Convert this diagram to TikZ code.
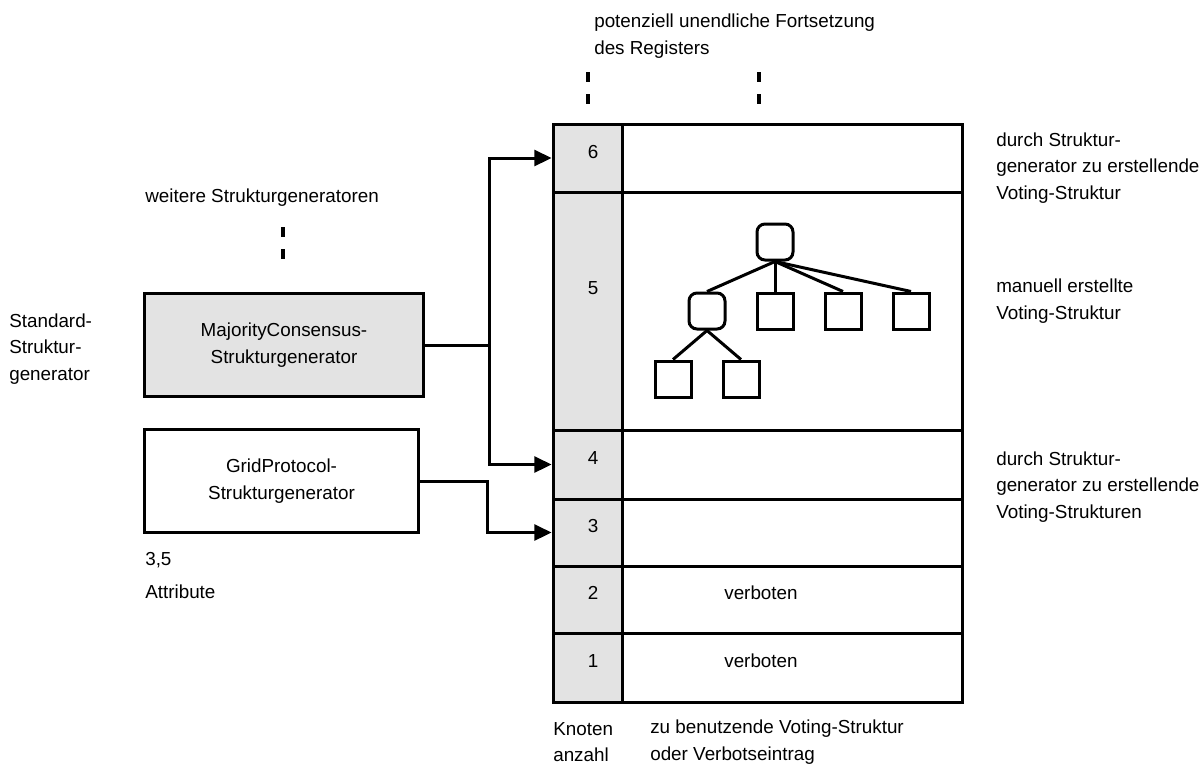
\documentclass[tikz,border=0pt]{standalone}
\usepackage{fontspec}
\setmainfont{Liberation Sans}
\usepackage{tikz}
\usetikzlibrary{arrows.meta, fit}

\definecolor{cellgray}{gray}{0.89}
\tikzset{
  cell/.style={draw, line width=0.075cm, inner sep=0pt},
  genbox/.style={draw, line width=0.075cm, minimum height=2.55cm, align=center},
  conn/.style={line width=0.075cm, -{Triangle[length=0.43cm, width=0.4cm]}},
  innernode/.style={draw, line width=0.075cm, rounded corners=0.2cm, minimum size=0.9cm, inner sep=0pt},
  leafnode/.style={draw, line width=0.075cm, minimum size=0.9cm, inner sep=0pt},
  contdash/.style={line width=0.1cm, dash pattern=on 0.25cm off 0.3cm},
  lbl/.style={anchor=west, align=left, inner sep=0pt}
}

\begin{document}
\begin{tikzpicture}[x=0.025cm, y=-0.025cm, font=\fontsize{13.4}{19}\selectfont]
			\useasboundingbox (0,0) rectangle (1203,764);
			% register rows
			\foreach \n/\t/\b/\ny in {6/124/192/152, 5/192/430/288, 4/430/499/458, 3/499/566/526, 2/566/633/593, 1/633/702/661} {
				\node[cell, fill=cellgray, fit={(553,\t) (622,\b)}] (k\n) {};
				\node[cell, fit={(622,\t) (962,\b)}] (v\n) {};
				\node (num\n) at (593,\ny) {\n};
			}
			\node (verb2) at (761,593) {verboten};
			\node (verb1) at (761,661) {verboten};
			% manual voting structure
			\node[innernode] (root) at (775,242) {};
			\node[innernode] (sub) at (707,311) {};
			\node[leafnode] (l1) at (775,311) {};
			\node[leafnode] (l2) at (843,311) {};
			\node[leafnode] (l3) at (911,311) {};
			\node[leafnode] (l4) at (673,379) {};
			\node[leafnode] (l5) at (741,379) {};
			\foreach \c in {sub, l1, l2, l3}
				\draw[line width=0.075cm] (root.south) -- (\c.north);
			\foreach \c in {l4, l5}
				\draw[line width=0.075cm] (sub.south) -- (\c.north);
			% generators
			\node[genbox, fill=cellgray, minimum width=6.95cm] (mcgen) at (284,345) {MajorityConsensus-\\Strukturgenerator};
			\node[genbox, minimum width=6.83cm] (gpgen) at (281.5,481) {GridProtocol-\\Strukturgenerator};
			\draw[conn] (mcgen.east) -- ++(65,0) coordinate (split) |- (k6.west);
			\draw[conn] (split) |- (k4.west);
			\draw[conn] (gpgen.east) -- ++(68,0) |- (k3.west);
			% continuation marks
			\draw[contdash] (283,227) -- (283,260);
			\draw[contdash] (588,72) -- (588,105);
			\draw[contdash] (759,72) -- (759,105);
			% labels
			\node[lbl] (cont) at (594,36) {potenziell unendliche Fortsetzung\\des Registers};
			\node[lbl] (more) at (145,198) {weitere Strukturgeneratoren};
			\node[lbl] (std) at (9,349) {Standard-\\Struktur-\\generator};
			\node[lbl] (val) at (145,560) {3,5};
			\node[lbl] (attr) at (145,592) {Attribute};
			\node[lbl] (gen6) at (996,168) {durch Struktur-\\generator zu erstellende\\Voting-Struktur};
			\node[lbl] (man5) at (996,301) {manuell erstellte\\Voting-Struktur};
			\node[lbl] (gen34) at (996,487) {durch Struktur-\\generator zu erstellende\\Voting-Strukturen};
			\node[lbl] (knot) at (553,742) {Knoten\\anzahl};
			\node[lbl] (use) at (650,742) {zu benutzende Voting-Struktur\\oder Verbotseintrag};
		\end{tikzpicture}
\end{document}
